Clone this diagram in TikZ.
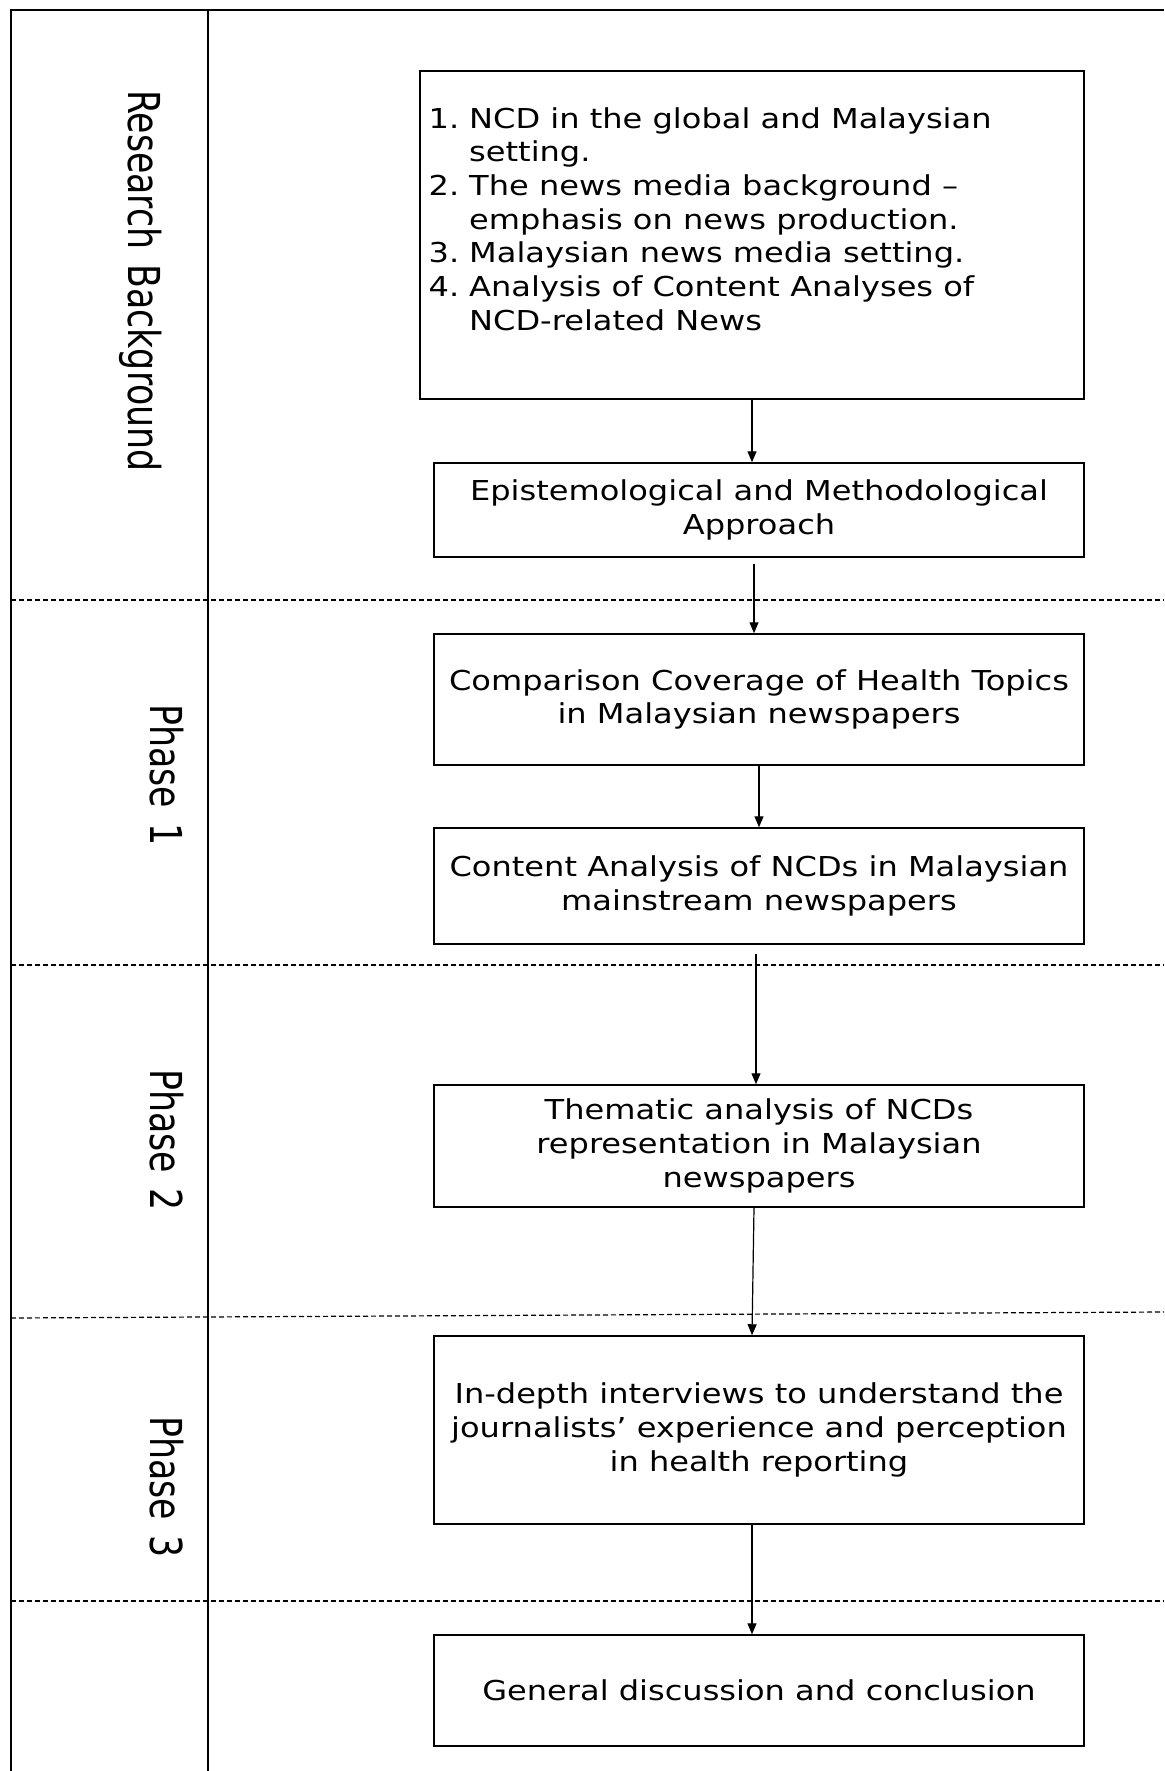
\documentclass[tikz,border=0pt]{standalone}
\usepackage{fontspec}
\usetikzlibrary{arrows.meta}
\newfontfamily\boxfont[FakeStretch=1.17]{DejaVu Sans}
\newfontfamily\lanefont[FakeStretch=0.79]{DejaVu Sans}

\begin{document}
\begin{tikzpicture}[x=1pt,y=-1pt,
  boxtext/.style={font=\boxfont\fontsize{27.4}{33.7}\selectfont},
  stagebox/.style={draw, line width=1.5pt, minimum width=650pt, inner sep=0pt,
    align=center, boxtext},
  flow/.style={line width=1.2pt, -{Triangle[length=11pt,width=9pt]}},
  lane/.style={rotate=-90, anchor=base, inner sep=0pt,
    font=\lanefont\fontsize{44}{50}\selectfont},
  divider/.style={dash pattern=on 5pt off 3pt, line width=1.2pt},
  frame/.style={line width=1.5pt}]

\useasboundingbox (0,0) rectangle (1164,1771);
\fill[white] (0,0) rectangle (1164,1771);

% outer frame and lane column
\draw[frame] (11,1771) -- (11,10) -- (1164,10);
\draw[frame] (208,10) -- (208,1771);

% phase separators
\draw[divider] (11,600) -- (1164,600);
\draw[divider] (11,965) -- (1164,965);
\draw[divider] (11,1318) -- (1164,1312);
\draw[divider] (11,1601) -- (1164,1601);

% lane titles
\node[lane] (lbg) at (128,281) {Research \kern4pt Background};
\node[lane] (lp1) at (150,775) {Phase \kern4pt 1};
\node[lane] (lp2) at (150,1140) {Phase \kern4pt 2};
\node[lane] (lp3) at (150,1487) {Phase \kern4pt 3};

% background box with numbered topics
\node[draw, line width=1.5pt, minimum width=664pt, minimum height=328pt,
  inner sep=0pt] (b1) at (752,235) {};
\node[anchor=north west, inner sep=0pt, align=left, boxtext] (t1) at (428.5,107)
  {\makebox[40.5pt][l]{1.}NCD in the global and Malaysian\\
   \hspace*{40.5pt}setting.\\
   \makebox[40.5pt][l]{2.}The news media background –\\
   \hspace*{40.5pt}emphasis on news production.\\
   \makebox[40.5pt][l]{3.}Malaysian news media setting.\\
   \makebox[40.5pt][l]{4.}Analysis of Content Analyses of\\
   \hspace*{40.5pt}NCD-related News};

% stage boxes
\node[stagebox, minimum height=94pt] (b2) at (759,510)
  {Epistemological and Methodological\\Approach};
\node[stagebox, minimum height=131pt] (b3) at (759,699.5)
  {Comparison Coverage of Health Topics\\in Malaysian newspapers};
\node[stagebox, minimum height=116pt] (b4) at (759,886)
  {Content Analysis of NCDs in Malaysian\\mainstream newspapers};
\node[stagebox, minimum height=122pt] (b5) at (759,1146)
  {Thematic analysis of NCDs\\representation in Malaysian\\newspapers};
\node[stagebox, minimum height=188pt] (b6) at (759,1430)
  {In-depth interviews to understand the\\journalists’ experience and perception\\in health reporting};
\node[stagebox, minimum height=111pt] (b7) at (759,1690.5)
  {General discussion and conclusion};

% flow arrows
\draw[flow] (b1.south) -- (b1.south |- b2.north);
\draw[flow] ([xshift=-5pt,yshift=-6pt]b2.south) -- ([xshift=-5pt]b3.north);
\draw[flow] (b3.south) -- (b4.north);
\draw[flow] ([xshift=-3pt,yshift=-9pt]b4.south) -- ([xshift=-3pt]b5.north);
\draw[flow] ([xshift=-5pt]b5.south) -- ([xshift=-7pt]b6.north);
\draw[flow] ([xshift=-7pt]b6.south) -- ([xshift=-7pt]b7.north);

\end{tikzpicture}
\end{document}
